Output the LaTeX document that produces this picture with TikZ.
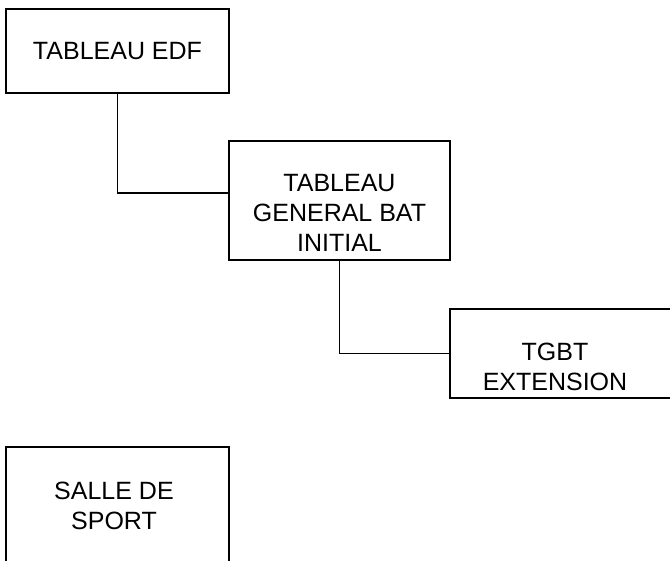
\documentclass[tikz,border=0pt]{standalone}
\usepackage{fontspec}
\setmainfont{Liberation Sans}
\usepackage{tikz}

\begin{document}
\begin{tikzpicture}[x=1pt, y=-1pt, line width=1.5pt,
  every node/.style = {align=center, font=\fontsize{25}{30}\selectfont},
  board/.style = {draw, rectangle, inner sep=0pt}]
  \useasboundingbox (0,0) rectangle (670,561);
  \clip (0,0) rectangle (670,561);
  % boxes
  \node[board, minimum width=223pt, minimum height=84pt] (edf) at (117.5,51) {TABLEAU EDF};
  \node[board, minimum width=221pt, minimum height=119pt] (gen) at (339.5,200.5) {};
  \node (gentext) at (339.5,213) {TABLEAU\\GENERAL BAT\\INITIAL};
  \node[board, minimum width=260pt, minimum height=89pt] (ext) at (580,353.5) {};
  \node (exttext) at (555,367) {TGBT\\EXTENSION};
  \node[board, minimum width=223pt, minimum height=160pt] (salle) at (117.5,527) {};
  \node (salletext) at (114,506) {SALLE DE\\SPORT};
  % links
  \draw (edf.south) |- ([yshift=7.5pt]gen.west);
  \draw (gen.south) |- (ext.west);
\end{tikzpicture}
\end{document}
